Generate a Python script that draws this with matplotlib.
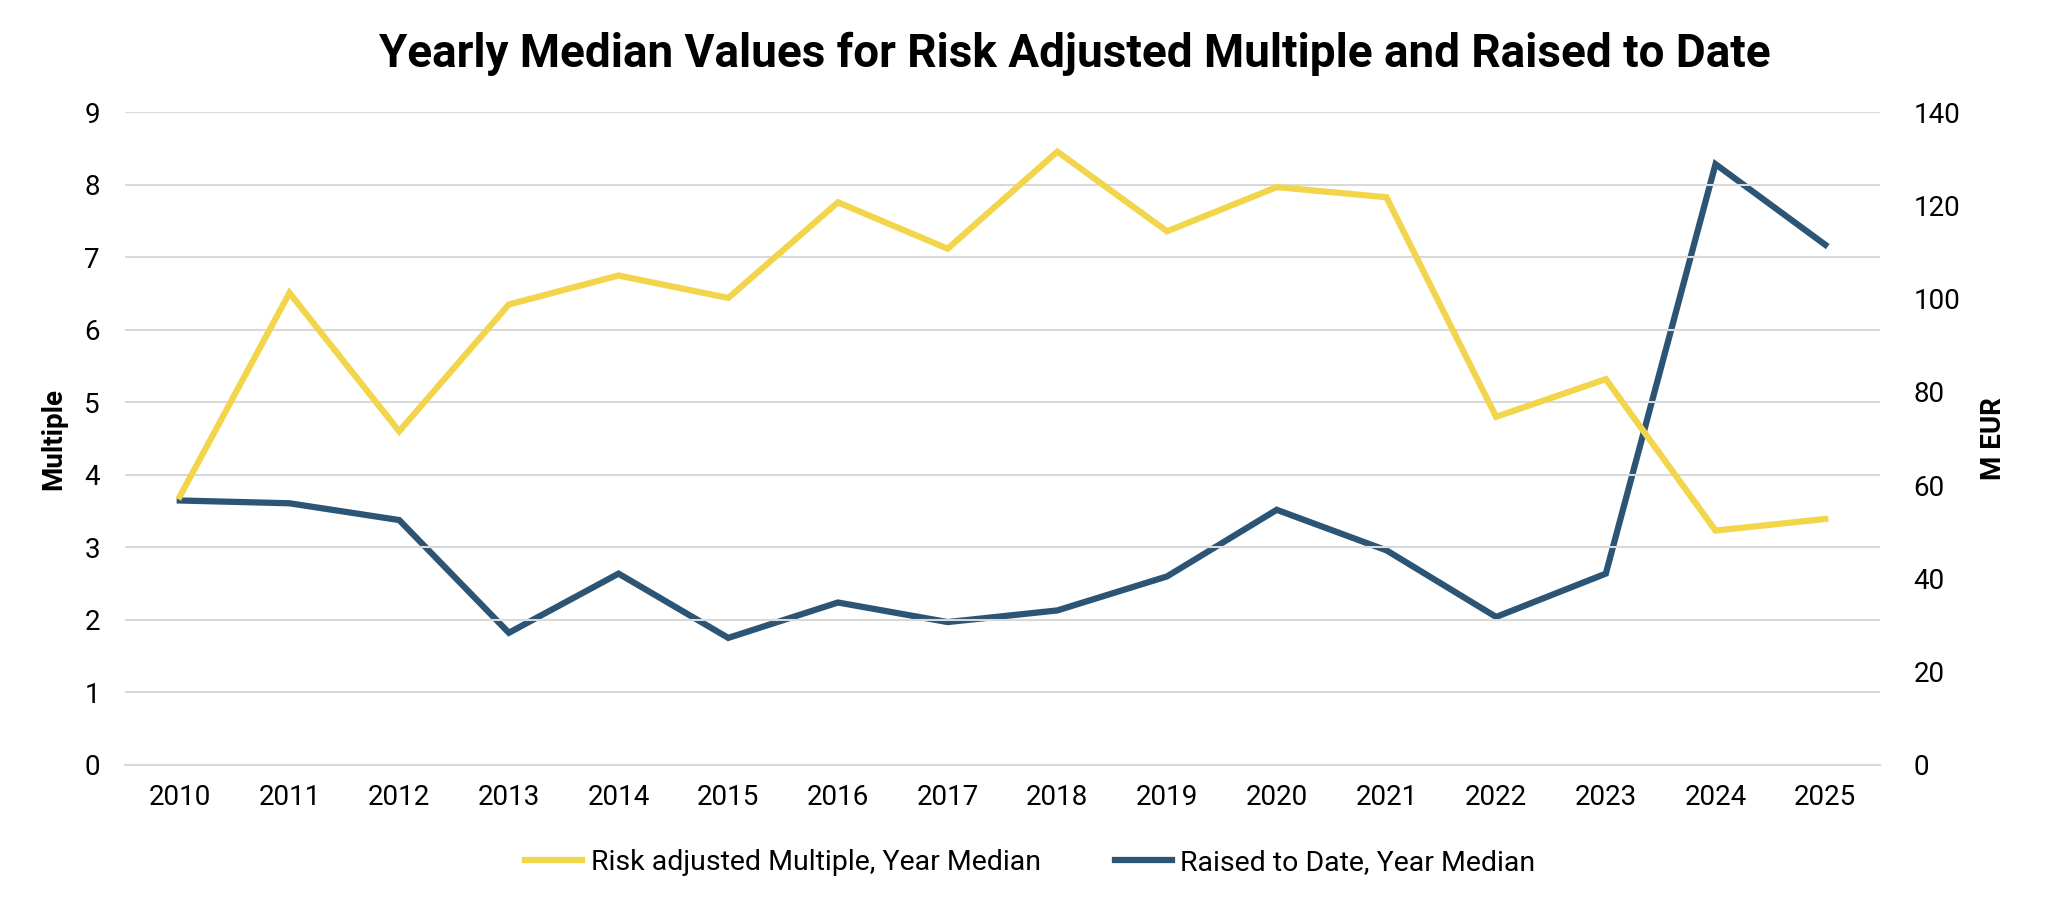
import matplotlib
matplotlib.use('Agg')
import matplotlib.pyplot as plt

plt.rcParams['font.family'] = ['Roboto', 'DejaVu Sans']

# --- Data ---
years = [2010, 2011, 2012, 2013, 2014, 2015, 2016, 2017,
         2018, 2019, 2020, 2021, 2022, 2023, 2024, 2025]
risk_adj_multiple = [3.70, 6.51, 4.60, 6.35, 6.75, 6.44, 7.76, 7.12,
                     8.46, 7.36, 7.97, 7.83, 4.80, 5.32, 3.23, 3.39]
raised_to_date = [56.7, 56.1, 52.5, 28.3, 41.0, 27.2, 34.8, 30.6,
                  33.1, 40.4, 54.7, 46.0, 31.7, 41.0, 128.9, 111.6]

yellow = '#F2D54B'
navy = '#2C5474'

fig, ax = plt.subplots(figsize=(20.48, 9.07), dpi=100)
fig.subplots_adjust(left=0.061, right=0.918, top=0.876, bottom=0.157)
ax2 = ax.twinx()

x = list(range(len(years)))
l1, = ax.plot(x, risk_adj_multiple, color=yellow, lw=4.5,
              solid_joinstyle='miter', label='Risk adjusted Multiple, Year Median', zorder=3)
l2, = ax2.plot(x, raised_to_date, color=navy, lw=4.5,
               solid_joinstyle='miter', label='Raised to Date, Year Median', zorder=3)

ax.set_ylim(0, 9)
ax.set_yticks(range(0, 10))
ax2.set_ylim(0, 140)
ax2.set_yticks(range(0, 141, 20))
ax.set_xlim(-0.5, len(years) - 0.5)
ax.set_xticks(x)
ax.set_xticklabels([str(y) for y in years])

ax.grid(axis='y', color='#D9D9D9', lw=1.5)
ax.set_axisbelow(True)
ax.set_zorder(ax2.get_zorder() + 1)
ax.patch.set_visible(False)

for a in (ax, ax2):
    for s in a.spines.values():
        s.set_visible(False)
    a.tick_params(length=0, labelsize=20)
ax.tick_params(axis='y', pad=18)
ax.tick_params(axis='x', pad=14)
ax2.tick_params(axis='y', pad=24)
ax.spines['bottom'].set_visible(True)
ax.spines['bottom'].set_color('#D9D9D9')
ax.spines['bottom'].set_linewidth(1.5)

ax.set_ylabel('Multiple', fontsize=20, fontweight='bold', labelpad=12)
ax2.set_ylabel('M EUR', fontsize=20, fontweight='bold', labelpad=14)

fig.suptitle('Yearly Median Values for Risk Adjusted Multiple and Raised to Date',
             fontsize=33, fontweight='bold', x=0.525, y=0.965)

fig.legend(handles=[l1, l2], loc='center', bbox_to_anchor=(0.503, 0.049),
           ncol=2, frameon=False, fontsize=20.5, handlelength=2.0,
           handletextpad=0.3, columnspacing=2.6)

fig.savefig('out.png', dpi=100)
